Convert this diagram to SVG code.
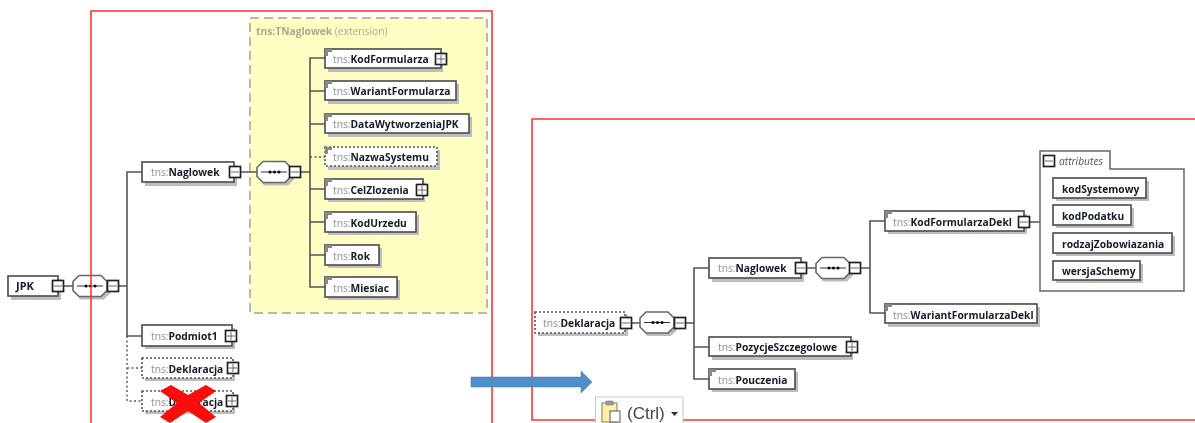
<svg xmlns="http://www.w3.org/2000/svg" xmlns:xlink="http://www.w3.org/1999/xlink" width="1195" height="423" viewBox="0 0 1195 423">
<style>
text{font-family:"Open Sans","DejaVu Sans",sans-serif;font-size:10.25px;font-weight:700;fill:#151a2a}
.p{fill:#8b8f96;font-weight:400}
.y{fill:#a9a98c;font-weight:700}
.yl{fill:#a9a98c;font-weight:400}
.b{fill:#fff;stroke:#555;stroke-width:1.7}
.d{fill:#fff;stroke:#555;stroke-width:1.6;stroke-dasharray:2 2}
.s{fill:#bdbdbd;stroke:none}
.l{fill:none;stroke:#555;stroke-width:1.6}
.ld{fill:none;stroke:#555;stroke-width:1.4;stroke-dasharray:2 2.5}
.r{fill:none;stroke:#f33;stroke-width:1.6}
.tg{fill:#fff;stroke:#222;stroke-width:1.7}
.tl{fill:none;stroke:#666;stroke-width:1}
.c{fill:#888;stroke:none}
</style>
<defs>
<filter id="soft" x="-2%" y="-2%" width="104%" height="104%"><feGaussianBlur stdDeviation="0.5"/></filter>
<g id="minus"><rect class="tg" x="-5.500" y="-5.500" width="11" height="11"/><path class="tl" d="M-4 0H4"/></g>
<g id="plus"><rect class="tg" x="-5.500" y="-5.500" width="11" height="11"/><path class="tl" d="M-4 0H4M0-4V4"/></g>
<g id="seq"><path class="s" d="M7 3H31L37 9V18L31 24H7L3 18V9Z"/><path d="M6 0H28L34 6V15L28 21H6L0 15V6Z" fill="#fff" stroke="#666" stroke-width="1.600" stroke-linejoin="round"/><path d="M4 10.500H30" stroke="#333" stroke-width="1"/><circle cx="13" cy="10.500" r="1.600" fill="#111"/><circle cx="17.500" cy="10.500" r="1.600" fill="#111"/><circle cx="22" cy="10.500" r="1.600" fill="#111"/></g>
<path id="corner" class="c" d="M0 0H7V3H3V7H0Z"/>
</defs>
<rect width="1195" height="423" fill="#fff"/>
<g filter="url(#soft)">
<g id="panels">
<rect x="250" y="18" width="237" height="295" fill="#ffffc4" stroke="#b9b9a4" stroke-width="2" stroke-dasharray="9 5"/>
<text class="y" x="256" y="35">tns:TNaglowek <tspan class="yl">(extension)</tspan></text>
</g>
<g id="connectors">
<path class="l" d="M64 286H73M119 286H127M142 172H127V336H142M240 172H257M301 172H310"/>
<path class="ld" d="M127 336V401H142M127 368H142"/>
<path class="l" d="M325 58H310V287H325M310 91H325M310 124H325M310 189H325M310 222H325M310 255H325"/>
<path class="ld" d="M310 157H325"/>
<path class="l" d="M632 323H640M686 323H694M709 268H694V379H709M694 347H709M807 268H816M861 268H870M885 221H870V313H885M1030 222H1040"/>
</g>
<g id="n-jpk"><rect class="s" x="11" y="279" width="50" height="21"/><rect class="b" x="8" y="276" width="50" height="20"/><text x="16" y="290" style="font-size:11px">JPK</text><use href="#minus" x="58" y="286"/></g>
<g id="seq-1"><use href="#seq" x="73" y="275.500"/><use href="#minus" x="113" y="286"/></g>
<g id="n-naglowek"><rect class="s" x="145" y="165" width="92" height="21"/><rect class="b" x="142" y="162" width="92" height="20"/><text x="151" y="176"><tspan class="p">tns:</tspan>Naglowek</text><use href="#minus" x="235" y="172"/></g>
<g id="seq-2"><use href="#seq" x="257" y="161.500"/><use href="#minus" x="295" y="172"/></g>
<g id="n-podmiot"><rect class="s" x="145" y="328" width="90" height="21"/><rect class="b" x="142" y="325" width="90" height="21"/><text x="151" y="340"><tspan class="p">tns:</tspan>Podmiot1</text><use href="#plus" x="231" y="336"/></g>
<g id="n-deklaracja"><rect class="s" x="145" y="361" width="90" height="20"/><rect class="d" x="142" y="358" width="91" height="20"/><text x="151" y="373"><tspan class="p">tns:</tspan>Deklaracja</text><use href="#plus" x="233" y="368"/></g>
<g id="n-korekta"><rect class="s" x="145" y="394" width="90" height="20"/><rect class="d" x="142" y="391" width="91" height="20"/><text x="151" y="406"><tspan class="p">tns:</tspan>Deklaracja</text><use href="#plus" x="232" y="401"/></g>
<g id="n-kodformularza"><rect class="s" x="328" y="52" width="115" height="20"/><rect class="b" x="325" y="49" width="116" height="19"/><use href="#corner" x="325" y="49"/><text x="333" y="63"><tspan class="p">tns:</tspan>KodFormularza</text><use href="#plus" x="441" y="59"/></g>
<g id="n-wariant"><rect class="s" x="328" y="84" width="131" height="20"/><rect class="b" x="325" y="81" width="131" height="19"/><use href="#corner" x="325" y="81"/><text x="333" y="95"><tspan class="p">tns:</tspan>WariantFormularza</text></g>
<g id="n-data"><rect class="s" x="328" y="117" width="144" height="20"/><rect class="b" x="325" y="114" width="144" height="19"/><use href="#corner" x="325" y="114"/><text x="333" y="128"><tspan class="p">tns:</tspan>DataWytworzeniaJPK</text></g>
<g id="n-nazwa"><rect class="s" x="328" y="150" width="112" height="20"/><rect class="d" x="325" y="147" width="112" height="19"/><use href="#corner" x="325" y="147"/><text x="333" y="161"><tspan class="p">tns:</tspan>NazwaSystemu</text></g>
<g id="n-cel"><rect class="s" x="328" y="182" width="97" height="20"/><rect class="b" x="325" y="179" width="98" height="20"/><use href="#corner" x="325" y="179"/><text x="333" y="194"><tspan class="p">tns:</tspan>CelZlozenia</text><use href="#plus" x="422" y="190"/></g>
<g id="n-kodurzedu"><rect class="s" x="328" y="215" width="91" height="20"/><rect class="b" x="325" y="212" width="91" height="20"/><use href="#corner" x="325" y="212"/><text x="333" y="227"><tspan class="p">tns:</tspan>KodUrzedu</text></g>
<g id="n-rok"><rect class="s" x="328" y="248" width="54" height="20"/><rect class="b" x="325" y="245" width="54" height="20"/><use href="#corner" x="325" y="245"/><text x="333" y="260"><tspan class="p">tns:</tspan>Rok</text></g>
<g id="n-miesiac"><rect class="s" x="328" y="280" width="72" height="20"/><rect class="b" x="325" y="277" width="72" height="20"/><use href="#corner" x="325" y="277"/><text x="333" y="292"><tspan class="p">tns:</tspan>Miesiac</text></g>
<g id="n-deklaracja-2"><rect class="s" x="538" y="315" width="90" height="21"/><rect class="d" x="535" y="312" width="90" height="21"/><text x="543" y="327"><tspan class="p">tns:</tspan>Deklaracja</text><use href="#minus" x="626" y="323"/></g>
<g id="seq-3"><use href="#seq" x="640" y="312"/><use href="#minus" x="680" y="323"/></g>
<g id="n-naglowek-2"><rect class="s" x="712" y="261" width="92" height="21"/><rect class="b" x="709" y="258" width="92" height="20"/><text x="718" y="272"><tspan class="p">tns:</tspan>Naglowek</text><use href="#minus" x="801" y="268"/></g>
<g id="seq-4"><use href="#seq" x="816" y="257.500"/><use href="#minus" x="855" y="268"/></g>
<g id="n-kodformularzadekl"><rect class="s" x="888" y="214" width="139" height="20"/><rect class="b" x="885" y="211" width="139" height="20"/><use href="#corner" x="885" y="211"/><text x="893" y="226"><tspan class="p">tns:</tspan>KodFormularzaDekl</text><use href="#minus" x="1024" y="222"/></g>
<g id="n-wariantdekl"><rect class="s" x="888" y="307" width="152" height="20"/><rect class="b" x="885" y="304" width="152" height="19"/><use href="#corner" x="885" y="304"/><text x="893" y="319"><tspan class="p">tns:</tspan>WariantFormularzaDekl</text></g>
<g id="n-pozycje"><rect class="s" x="712" y="340" width="141" height="20"/><rect class="b" x="709" y="337" width="142" height="19"/><text x="718" y="351"><tspan class="p">tns:</tspan>PozycjeSzczegolowe</text><use href="#plus" x="852" y="347"/></g>
<g id="n-pouczenia"><rect class="s" x="712" y="372" width="86" height="20"/><rect class="b" x="709" y="369" width="86" height="20"/><use href="#corner" x="709" y="369"/><text x="718" y="384"><tspan class="p">tns:</tspan>Pouczenia</text></g>
<g id="attributes">
<path d="M1040 151H1110V169H1184V291H1040Z" fill="#fff" stroke="#666" stroke-width="1.500"/>
<use href="#minus" x="1049" y="161"/>
<text x="1059" y="165" style="font-style:italic;font-weight:400;fill:#555">attributes</text>
<g id="a-kodsystemowy"><rect class="s" x="1056" y="181" width="93" height="20"/><rect class="b" x="1053" y="178" width="93" height="20"/><text x="1062" y="193">kodSystemowy</text></g>
<g id="a-kodpodatku"><rect class="s" x="1056" y="208" width="78" height="20"/><rect class="b" x="1053" y="205" width="78" height="20"/><text x="1062" y="220">kodPodatku</text></g>
<g id="a-rodzaj"><rect class="s" x="1056" y="236" width="119" height="20"/><rect class="b" x="1053" y="233" width="119" height="20"/><text x="1062" y="248">rodzajZobowiazania</text></g>
<g id="a-wersja"><rect class="s" x="1056" y="264" width="87" height="19"/><rect class="b" x="1053" y="261" width="87" height="19"/><text x="1062" y="275">wersjaSchemy</text></g>
</g>
<g id="annotations">
<path class="r" d="M91 423V11H492V423"/>
<path class="r" d="M1195 119H532V420H1195"/>
<path d="M471 377H581V371L592 382L581 393V387H471Z" fill="#4f8fc9" stroke="#3f78ad" stroke-width=".5"/>
<path d="M160 391L171 385L188 395L206 385L216 391L199 403L216 417L206 423L188 411L170 423L160 417L177 403Z" fill="#fa0a0a"/>
<g id="paste-options">
<rect x="595.500" y="397" width="87.500" height="27" fill="#fff" stroke="#c8c8c8"/>
<rect x="602" y="403" width="15" height="19" fill="#fff2a8" stroke="#8a7a50"/>
<rect x="606" y="401" width="7" height="4" fill="#9a9a9a" stroke="#666" stroke-width=".5"/>
<rect x="610" y="411" width="10" height="11" fill="#fff" stroke="#555"/>
<text x="627" y="419" style="font-family:'Liberation Sans',sans-serif;font-size:17px;font-weight:400;fill:#444">(Ctrl)</text>
<path d="M671 412H678L674.500 416Z" fill="#333"/>
</g>
</g>
</g>
</svg>
